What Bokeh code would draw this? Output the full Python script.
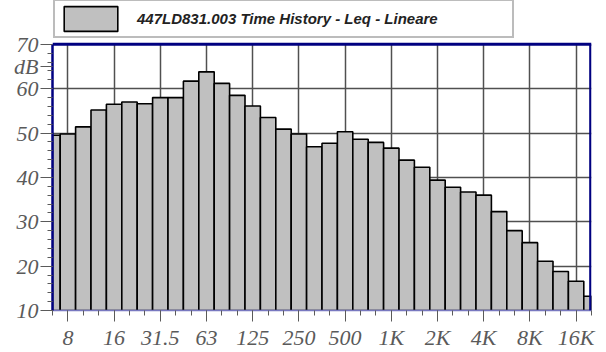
from bokeh.plotting import figure
from bokeh.models import (ColumnDataSource, FixedTicker, Range1d, Legend,
                          LegendItem, Span, BoxAnnotation)
from bokeh.embed import file_html
from bokeh.resources import INLINE

# 1/3-octave band centres shown (6.3 Hz .. 20 kHz)
bands = ["6.3", "8", "10", "12.5", "16", "20", "25", "31.5", "40", "50",
         "63", "80", "100", "125", "160", "200", "250", "315", "400", "500",
         "630", "800", "1K", "1.25K", "1.6K", "2K", "2.5K", "3.15K", "4K", "5K",
         "6.3K", "8K", "10K", "12.5K", "16K", "20K"]
leq_db = [49.5, 49.8, 51.4, 55.2, 56.5, 57.0, 56.6, 58.0, 58.0, 61.7,
          63.8, 61.2, 58.5, 56.1, 53.5, 50.9, 49.8, 46.9, 47.7, 50.3,
          48.6, 47.9, 46.6, 43.9, 42.3, 39.4, 37.8, 36.7, 36.0, 32.3,
          28.0, 25.3, 21.1, 18.8, 16.6, 13.2]
tick_labels = ["8", "16", "31.5", "63", "125", "250", "500", "1K", "2K",
               "4K", "8K", "16K"]
y_ticks = [10, 20, 30, 40, 50, 60, 70]
unit_pos = 65
unit_label = "dB"
title_text = "447LD831.003 Time History - Leq - Lineare"

x_pos = list(range(len(bands)))
tick_pos = [bands.index(t) for t in tick_labels]
y_lo, y_hi = y_ticks[0], y_ticks[-1]
x_end = len(bands) - 1

# frame extends above the 70 dB line to hold the title legend
W, H = 606, 352
B_LEFT, B_RIGHT, B_TOP, B_BOTTOM = 52, 15, 0, 41
frame_h = H - B_TOP - B_BOTTOM
px_per_db = (frame_h - 44) / (y_hi - y_lo)
y_top = y_lo + frame_h / px_per_db

src = ColumnDataSource(data=dict(x=x_pos, top=leq_db, band=bands))

p = figure(width=W, height=H, x_range=Range1d(0, x_end),
           y_range=Range1d(y_lo, y_top), output_backend="svg",
           toolbar_location=None, min_border_left=B_LEFT,
           min_border_right=B_RIGHT, min_border_top=B_TOP,
           min_border_bottom=B_BOTTOM)
p.background_fill_color = "white"
p.border_fill_color = "white"
p.outline_line_color = None

label_font = "Liberation Serif"
gray = "#5a5a5a"
grid_col = "#505050"

# vertical grid lines limited to the 10..70 dB band
xg = p.xgrid[0]
if "cross_bounds" in xg.properties():
    xg.ticker = FixedTicker(ticks=tick_pos)
    xg.cross_bounds = (y_lo, y_hi)
    xg.grid_line_color = grid_col
    xg.grid_line_width = 1.5
else:
    xg.visible = False
    p.segment(x0=tick_pos, y0=[y_lo] * len(tick_pos), x1=tick_pos,
              y1=[y_hi] * len(tick_pos), line_color=grid_col,
              line_width=1.5, level="underlay")

p.ygrid.ticker = FixedTicker(ticks=y_ticks[1:-1])
p.ygrid.grid_line_color = grid_col
p.ygrid.grid_line_width = 1.5

bars = p.vbar(x="x", top="top", bottom=y_lo, width=1, source=src,
              fill_color="#c0c0c0", line_color="black", line_width=1.6)

# x axis
xax = p.xaxis[0]
xax.ticker = FixedTicker(ticks=tick_pos, minor_ticks=x_pos)
xax.major_label_overrides = {t: l for t, l in zip(tick_pos, tick_labels)}
xax.major_tick_out = 11
xax.major_tick_in = 0
xax.minor_tick_out = 5
xax.minor_tick_in = 0
xax.major_tick_line_color = gray
xax.minor_tick_line_color = gray
xax.axis_line_color = "#7878c0"
xax.axis_line_width = 1.5
xax.major_label_standoff = 3
xax.major_label_text_font = label_font
xax.major_label_text_font_style = "italic"
xax.major_label_text_font_size = "22px"
xax.major_label_text_color = gray

# y axis (unit "dB" shown as a label between 60 and 70)
yax = p.yaxis[0]
yax.bounds = (y_lo, y_hi)
yax.ticker = FixedTicker(ticks=y_ticks + [unit_pos],
                         minor_ticks=list(range(y_lo, y_hi + 1, 2)))
yax.major_label_overrides = {unit_pos: unit_label}
yax.major_tick_out = 12
yax.major_tick_in = 0
yax.minor_tick_out = 5
yax.minor_tick_in = 0
yax.major_tick_line_color = gray
yax.minor_tick_line_color = gray
yax.axis_line_color = "#000080"
yax.axis_line_width = 2.5
yax.major_label_standoff = 2
yax.major_label_text_font = label_font
yax.major_label_text_font_style = "italic"
yax.major_label_text_font_size = "22px"
yax.major_label_text_color = gray

# plot-area border: top and right (navy)
p.add_layout(Span(location=y_hi, dimension="width", line_color="#000080",
                  line_width=3))
p.add_layout(BoxAnnotation(left=x_end - 0.15, right=x_end, bottom=y_lo,
                           top=y_hi, fill_color="#000080", fill_alpha=1.0,
                           line_alpha=0))

legend = Legend(items=[LegendItem(label=title_text, renderers=[bars])],
                location=(1, 272), orientation="vertical",
                glyph_width=67, glyph_height=31, padding=2, margin=0,
                label_standoff=13, label_width=373, label_height=20,
                border_line_color="#7a7a7a", border_line_width=2,
                background_fill_color="white", background_fill_alpha=1.0,
                label_text_font="Liberation Sans",
                label_text_font_style="bold italic",
                label_text_font_size="15px", label_text_color="#222222")
p.add_layout(legend, "center")

open("out.html", "w").write(file_html(p, INLINE))
